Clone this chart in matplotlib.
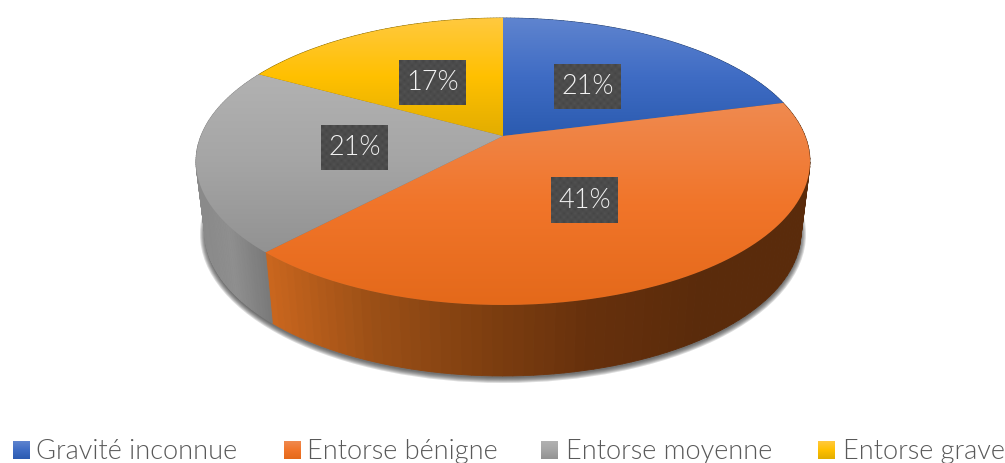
import numpy as np
import matplotlib
matplotlib.use("Agg")
import matplotlib.pyplot as plt
from matplotlib.collections import PolyCollection
from matplotlib.colors import LinearSegmentedColormap
from matplotlib.patches import Ellipse, PathPatch
from matplotlib.path import Path

# data
categories = ["Gravité inconnue", "Entorse bénigne", "Entorse moyenne", "Entorse grave"]
values = [21, 41, 21, 17]

# colours: top / middle / bottom of each top face
face_stops = [
    ["#5f84cf", "#3f6cc4", "#2b5bb0"],
    ["#ef8a50", "#f1752a", "#e4691a"],
    ["#b2b2b2", "#a5a5a5", "#929292"],
    ["#ffc93f", "#ffc000", "#e2ad00"],
]
side_stops = [
    ["#24406f", "#24406f"],
    ["#cb671e", "#9b4f16", "#7f3f10", "#66300c", "#5a2b0b"],
    ["#8a8a8a", "#8f8f8f", "#7a7a7a"],
    ["#8c6c00", "#8c6c00"],
]
legend_x = [13, 284, 541, 818]
text_x = [36, 307, 566, 843]

# pie geometry in pixels, the tilt is a projective map of the unit circle
CX = 503
TOP_Y, TOP_RX, TOP_RY = 161.5, 307, 143.5
BOT_Y, BOT_RX, BOT_RY = 232, 298, 144
C = 25.5 / 143.5
SIDE_X = (205, 801)


def project(theta, r, cy, rx, ry):
    u = r * np.sin(theta)
    v = r * np.cos(theta)
    w = 1 + C * v
    return CX + rx * np.sqrt(1 - C**2) * u / w, cy - ry * (v + C) / w


def gradient(ax, stops, box, clip=None, z=3):
    cmap = LinearSegmentedColormap.from_list("g", stops)
    im = ax.imshow(np.linspace(0, 1, 256).reshape(-1, 1), cmap=cmap, aspect="auto",
                   extent=box, zorder=z, interpolation="bilinear")
    if clip is not None:
        im.set_clip_path(clip)
    return im


plt.rcParams["font.family"] = ["Lato", "DejaVu Sans"]
fig = plt.figure(figsize=(10.05, 4.63), dpi=100)
ax = fig.add_axes([0, 0, 1, 1])

# soft shadow under the pie
for grow in range(5, -1, -1):
    ax.add_patch(Ellipse((CX, BOT_Y + 2), 2 * (BOT_RX + grow), 2 * (BOT_RY + grow),
                         fc="#303030", ec="none", alpha=0.17, zorder=1))

edges = np.radians(np.cumsum([0] + values) * 3.6)

# side wall, cut into vertical bands
for i in range(4):
    t = np.linspace(edges[i], edges[i + 1], 90)
    tx, ty = project(t, 1, TOP_Y, TOP_RX, TOP_RY)
    bx, by = project(t, 1, BOT_Y, BOT_RX, BOT_RY)
    quads = [[(tx[k], ty[k]), (tx[k + 1], ty[k + 1]), (bx[k + 1], by[k + 1]), (bx[k], by[k])]
             for k in range(len(t) - 1)]
    cmap = LinearSegmentedColormap.from_list("s", side_stops[i])
    if i == 1:
        pos = (bx[:-1] - bx[-1]) / 430
    else:
        pos = (bx[:-1] - SIDE_X[0]) / (bx[0] - SIDE_X[0])
    col = cmap(np.clip(pos, 0, 1))
    ax.add_collection(PolyCollection(quads, facecolors=col, edgecolors=col, linewidths=0.6, zorder=2))

# top face
for i in range(4):
    t = np.linspace(edges[i], edges[i + 1], 200)
    x, y = project(t, 1, TOP_Y, TOP_RX, TOP_RY)
    ax0, ay0 = project(0.0, 0, TOP_Y, TOP_RX, TOP_RY)
    xs = np.r_[ax0, x, ax0]
    ys = np.r_[ay0, y, ay0]
    clip = PathPatch(Path(np.c_[xs, ys]), transform=ax.transData, fc="none", ec="none")
    gradient(ax, face_stops[i], (xs.min(), xs.max(), ys.max(), ys.min()), clip, 3 + i * 0.1)

# percent labels on checkered boxes
checker = (np.indices((12, 18)).sum(axis=0) % 2).astype(float)
cmap_box = LinearSegmentedColormap.from_list("b", ["#454545", "#525252"])
mids = (edges[:-1] + edges[1:]) / 2
for m, v in zip(mids, values):
    lx, ly = project(m, 0.49, TOP_Y, TOP_RX, TOP_RY)
    ly += 1
    ax.imshow(checker, cmap=cmap_box, aspect="auto", interpolation="bilinear",
              extent=(lx - 33.5, lx + 33.5, ly + 22.5, ly - 22.5), zorder=5)
    ax.text(lx, ly, f"{v}%", color="#f2f2f2", fontsize=19.5, fontweight=300,
            ha="center", va="center", zorder=6)

# legend
for i, name in enumerate(categories):
    gradient(ax, face_stops[i], (legend_x[i], legend_x[i] + 17, 459, 441), None, 3)
    ax.text(text_x[i], 459, name, color="#595959", fontsize=19.5, fontweight=300,
            ha="left", va="baseline", zorder=6)

ax.set_xlim(0, 1005)
ax.set_ylim(463, 0)
ax.axis("off")
fig.savefig("out.png", dpi=100)
